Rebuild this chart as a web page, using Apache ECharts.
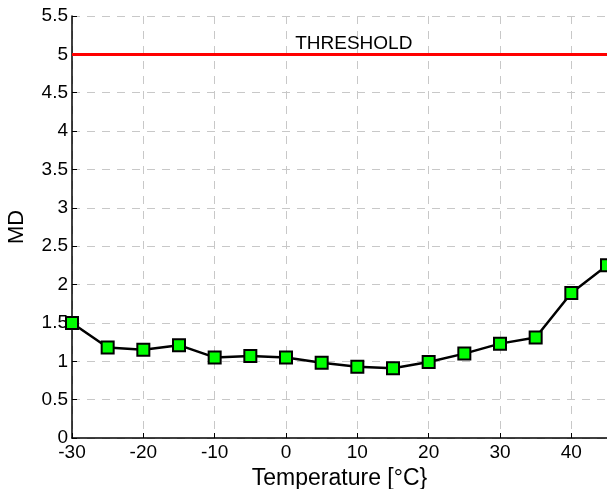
<!DOCTYPE html>
<html><head><meta charset="utf-8">
<script src="https://cdn.jsdelivr.net/npm/echarts@6/dist/echarts.min.js"></script>
<style>html,body{margin:0;padding:0;background:#fff}#c{width:607px;height:489px}</style>
</head><body><div id="c"></div>
<script>
const temps = [-30,-25,-20,-15,-10,-5,0,5,10,15,20,25,30,35,40,45];
const md = [1.50,1.18,1.15,1.21,1.05,1.07,1.05,0.98,0.93,0.91,0.99,1.10,1.23,1.31,1.89,2.25];
const threshold = 5;
const thresholdLabel = 'THRESHOLD';
const thresholdLabelX = 9.5;
const xTitle = 'Temperature [°C}';
const yTitle = 'MD';

const font = 'Liberation Sans, Arial, Helvetica, sans-serif';
const chart = echarts.init(document.getElementById('c'), null, {renderer:'canvas'});
chart.setOption({
  animation:false,
  grid:{left:72,right:0,top:16,bottom:51,containLabel:false,outerBoundsMode:'none'},
  xAxis:{type:'value',min:-30,max:45,interval:10,
    name:xTitle,nameLocation:'middle',nameGap:27,
    nameTextStyle:{color:'#000',fontSize:23,fontFamily:font,verticalAlign:'top'},
    axisLine:{onZero:false,lineStyle:{color:'#000',width:1.5}},
    axisTick:{inside:true,length:5,lineStyle:{color:'#000'}},
    axisLabel:{color:'#000',fontSize:19,fontFamily:font,margin:5,showMaxLabel:false},
    splitLine:{show:true,lineStyle:{color:'#c8c8c8',type:[8,7],width:1}}},
  yAxis:{type:'value',min:0,max:5.5,interval:0.5,
    name:yTitle,nameLocation:'middle',nameGap:44,
    nameTextStyle:{color:'#000',fontSize:22,fontFamily:font},
    axisLine:{show:true,onZero:false,lineStyle:{color:'#000',width:1.5}},
    axisTick:{show:true,inside:true,length:5,lineStyle:{color:'#000'}},
    axisLabel:{color:'#000',fontSize:19,fontFamily:font,margin:4},
    splitLine:{show:true,lineStyle:{color:'#c8c8c8',type:[8,7],width:1}}},
  series:[
    {type:'line',data:temps.map((t,i)=>[t,md[i]]),
      lineStyle:{color:'#000',width:2.5},
      symbol:'rect',symbolSize:12,
      itemStyle:{color:'#00ff00',borderColor:'#000',borderWidth:2},
      z:5,
      markLine:{silent:true,symbol:'none',
        lineStyle:{color:'#ff0000',width:3,type:'solid'},
        label:{show:false},
        data:[{yAxis:threshold}]},
      markPoint:{symbol:'rect',symbolSize:0,silent:true,
        label:{show:true,position:'top',distance:1,formatter:thresholdLabel,color:'#000',fontSize:19,fontFamily:font},
        data:[{coord:[thresholdLabelX,threshold]}]}
    }
  ]
});
</script></body></html>
